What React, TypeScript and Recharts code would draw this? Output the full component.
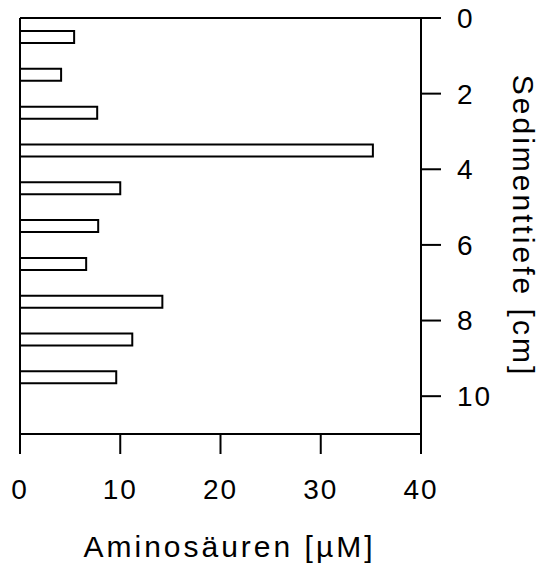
import { BarChart, Bar, XAxis, YAxis, ReferenceLine, Label } from 'recharts';

const FONT = '"Liberation Sans", Arial, Helvetica, sans-serif';

// Sediment depth (cm, centre of each 1 cm slice) and amino acid concentration (µM)
const depths = [0.5, 1.5, 2.5, 3.5, 4.5, 5.5, 6.5, 7.5, 8.5, 9.5];
const aminoAcids = [5.4, 4.1, 7.7, 35.2, 10.0, 7.8, 6.6, 14.2, 11.2, 9.6];

const xTicks = [0, 10, 20, 30, 40];
const depthTicks = [0, 2, 4, 6, 8, 10];

const data = depths.map((depth, i) => ({ depth, value: aminoAcids[i] }));

const axisStroke = { stroke: '#000', strokeWidth: 2 };
const tickStyle = { fill: '#000', fontSize: 28, fontFamily: FONT, letterSpacing: 2 };

export default function App() {
    return (
        <div style={{ position: 'absolute', left: 0, top: 0, background: '#fff' }}>
            <BarChart
                width={548}
                height={573}
                data={data}
                layout="vertical"
                margin={{ top: 18, right: 0, bottom: 0, left: 20 }}
                style={{ fontFamily: FONT }}
            >
                <XAxis
                    type="number"
                    domain={[0, 40]}
                    ticks={xTicks}
                    height={139}
                    tickSize={20}
                    tickMargin={25}
                    axisLine={axisStroke}
                    tickLine={axisStroke}
                    tick={tickStyle}
                >
                    <Label
                        content={({ viewBox }: any) => (
                            <text
                                x={viewBox.x + viewBox.width / 2 + 9}
                                y={viewBox.y + 123}
                                textAnchor="middle"
                                fontSize={30}
                                letterSpacing={3}
                                fontFamily={FONT}
                                fill="#000"
                            >
                                Aminosäuren [µM]
                            </text>
                        )}
                    />
                </XAxis>
                <YAxis
                    type="number"
                    dataKey="depth"
                    orientation="right"
                    domain={[0, 11]}
                    ticks={depthTicks}
                    width={127}
                    tickSize={20}
                    tickMargin={16}
                    axisLine={axisStroke}
                    tickLine={axisStroke}
                    tick={tickStyle}
                >
                    <Label
                        content={({ viewBox }: any) => {
                            const x = viewBox.x + viewBox.width - 35;
                            const y = viewBox.y + viewBox.height / 2;
                            return (
                                <text
                                    x={x}
                                    y={y}
                                    transform={`rotate(90, ${x}, ${y})`}
                                    textAnchor="middle"
                                    fontSize={30}
                                    letterSpacing={3}
                                    fontFamily={FONT}
                                    fill="#000"
                                >
                                    Sedimenttiefe [cm]
                                </text>
                            );
                        }}
                    />
                </YAxis>
                <ReferenceLine y={0} stroke="#000" strokeWidth={2} />
                <ReferenceLine x={0} stroke="#000" strokeWidth={2} />
                <Bar
                    dataKey="value"
                    barSize={12}
                    fill="#fff"
                    stroke="#000"
                    strokeWidth={2}
                    isAnimationActive={false}
                />
            </BarChart>
        </div>
    );
}
